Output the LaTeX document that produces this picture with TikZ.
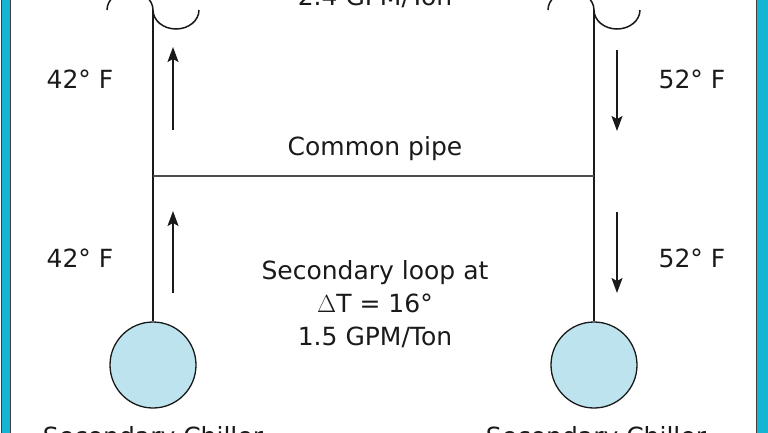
\documentclass[tikz,border=0pt]{standalone}
\usepackage{fontspec}
\setmainfont{DejaVu Sans}
\usetikzlibrary{arrows.meta}
\definecolor{frameblue}{HTML}{14B4D2}
\definecolor{chillfill}{HTML}{BDE4EE}
\definecolor{inkc}{HTML}{1A1A1A}
\tikzset{
  pipe/.style={draw=inkc, line width=1.5bp},
  common/.style={draw=black!70, line width=1.7bp},
  flow/.style={draw=inkc, line width=1.4bp, -{Stealth[length=15bp,width=11bp,inset=3bp]}},
  chiller/.style={circle, draw=inkc, line width=1.3bp, fill=chillfill, minimum size=86bp, inner sep=0pt},
  lbl/.style={text=inkc, font=\fontsize{25bp}{33bp}\selectfont, inner sep=0pt, anchor=base, align=center},
  bar/.style={fill=frameblue, draw=black!75, line width=0.8bp}
}
\begin{document}
\begin{tikzpicture}[x=1bp, y=-1bp]
\useasboundingbox (0,0) rectangle (768,432);
\clip (0,0) rectangle (768,432);
\fill[white] (0,0) rectangle (768,432);
% frame bars
\path[bar] (1.5,-5) rectangle (10.5,440);
\path[bar] (756.5,-5) rectangle (772,440);
% chillers
\node[chiller] (chL) at (153,365) {};
\node[chiller] (chR) at (594,365) {};
% pipe coordinates
\coordinate (topL) at (153,10);
\coordinate (topR) at (594,10);
\coordinate (comL) at (153,176);
\coordinate (comR) at (594,176);
% pipes
\draw[pipe] (topL) -- (comL) -- (chL.north);
\draw[pipe] (topR) -- (comR) -- (chR.north);
\draw[common] (comL) -- (comR);
% break symbols at top
\draw[pipe] (topL) arc[start angle=0, end angle=-180, x radius=23, y radius=19];
\draw[pipe] (topL) arc[start angle=180, end angle=0, x radius=23, y radius=19];
\draw[pipe] (topR) arc[start angle=0, end angle=-180, x radius=23, y radius=19];
\draw[pipe] (topR) arc[start angle=180, end angle=0, x radius=23, y radius=19];
% flow arrows
\coordinate (a1s) at (173,130); \coordinate (a1e) at (173,47);
\coordinate (a2s) at (173,293); \coordinate (a2e) at (173,211);
\coordinate (a3s) at (617,50);  \coordinate (a3e) at (617,131);
\coordinate (a4s) at (617,212); \coordinate (a4e) at (617,293);
\draw[flow] (a1s) -- (a1e);
\draw[flow] (a2s) -- (a2e);
\draw[flow] (a3s) -- (a3e);
\draw[flow] (a4s) -- (a4e);
% labels
\node[lbl] (tL1) at (80,88) {42° F};
\node[lbl] (tL2) at (80,267) {42° F};
\node[lbl] (tR1) at (692,88) {52° F};
\node[lbl] (tR2) at (692,267) {52° F};
\node[lbl] (cp) at (375,155) {Common pipe};
\node[lbl] (sec) at (375,345) {Secondary loop at\\$\Delta$T = 16°\\1.5 GPM/Ton};
\node[lbl] (prim) at (375,5) {2.4 GPM/Ton};
\node[lbl] (sL) at (153,445) {Secondary Chiller};
\node[lbl] (sR) at (596,445) {Secondary Chiller};
\end{tikzpicture}
\end{document}
